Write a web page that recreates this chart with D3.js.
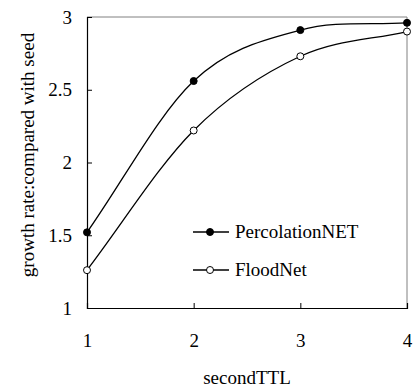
<!DOCTYPE html>
<html>
<head>
<meta charset="utf-8">
<script src="https://cdn.jsdelivr.net/npm/d3@7"></script>
<style>
  body { margin: 0; background: #fff; }
</style>
</head>
<body>
<div class="chart"></div>
<script>
// data
const ttl = [1, 2, 3, 4];
const percolationNET = [1.52, 2.56, 2.91, 2.96];
const floodNet = [1.26, 2.22, 2.73, 2.90];
const xTicks = [1, 2, 3, 4];
const yTicks = [1, 1.5, 2, 2.5, 3];

const serif = '"Liberation Serif", "Times New Roman", serif';
const fontSize = 19;
const width = 414, height = 387;
const margin = { top: 17, left: 87, bottom: 79, right: 7 };

// spreadsheet-style smoothing: catmull-rom inside, tangent = chord at the ends
function smoothCurve(context) {
    let pts;
    return {
        areaStart() {}, areaEnd() {},
        lineStart() { pts = []; },
        point(px, py) { pts.push([+px, +py]); },
        lineEnd() {
            context.moveTo(pts[0][0], pts[0][1]);
            for (let i = 0; i < pts.length - 1; i++) {
                const p0 = pts[i], p1 = pts[i + 1];
                const a = pts[i - 1] || p0, b = pts[i + 2] || p1;
                const k0 = pts[i - 1] ? 6 : 3, k1 = pts[i + 2] ? 6 : 3;
                context.bezierCurveTo(
                    p0[0] + (p1[0] - a[0]) / k0, p0[1] + (p1[1] - a[1]) / k0,
                    p1[0] - (b[0] - p0[0]) / k1, p1[1] - (b[1] - p0[1]) / k1,
                    p1[0], p1[1]);
            }
        }
    };
}

const svg = d3.select(".chart").append("svg")
    .attr("width", width)
    .attr("height", height);

//SCALES
const x = d3.scaleLinear()
    .domain([1, 4])
    .range([margin.left, width - margin.right]);

const y = d3.scaleLinear()
    .domain([1, 3])
    .range([height - margin.bottom, margin.top]);

//FRAME (top/right in grey)
svg.append("line")
    .attr("x1", x(1)).attr("x2", x(4))
    .attr("y1", y(3)).attr("y2", y(3))
    .attr("stroke", "#808080");
svg.append("line")
    .attr("x1", x(4)).attr("x2", x(4))
    .attr("y1", y(3)).attr("y2", y(1))
    .attr("stroke", "#808080");

//X AXIS, ticks inside
const xAxis = svg.append("g")
    .attr("transform", `translate(0, ${y(1)})`)
    .call(d3.axisBottom(x).tickValues(xTicks).tickSize(-5).tickPadding(26).tickFormat(d3.format("d")));

//Y AXIS, ticks inside
const yAxis = svg.append("g")
    .attr("transform", `translate(${x(1)}, 0)`)
    .call(d3.axisLeft(y).tickValues(yTicks).tickSize(-5).tickPadding(15).tickFormat(d => d));

[xAxis, yAxis].forEach(g => {
    g.select(".domain").attr("stroke", "#000").attr("stroke-width", 1.2);
    g.selectAll(".tick line").attr("stroke", "#000");
    g.selectAll(".tick text")
        .style("font-family", serif)
        .style("font-size", fontSize + "px")
        .attr("fill", "#000");
});

//AXIS TITLES
svg.append("text")
    .attr("x", (x(1) + x(4)) / 2)
    .attr("y", 384)
    .attr("text-anchor", "middle")
    .style("font-family", serif)
    .style("font-size", fontSize + "px")
    .text("secondTTL");

svg.append("text")
    .attr("transform", "translate(34, 155) rotate(-90)")
    .attr("text-anchor", "middle")
    .style("font-family", serif)
    .style("font-size", fontSize + "px")
    .text("growth rate:compared with seed");

//LINES
const line = d3.line()
    .x((d, i) => x(ttl[i]))
    .y(d => y(d))
    .curve(smoothCurve);

const series = [
    { name: "PercolationNET", values: percolationNET, fill: "#000" },
    { name: "FloodNet", values: floodNet, fill: "#fff" }
];

series.forEach(s => {
    svg.append("path")
        .datum(s.values)
        .attr("fill", "none")
        .attr("stroke", "#000")
        .attr("stroke-width", 1.3)
        .attr("d", line);

    svg.selectAll(null)
        .data(s.values)
        .enter().append("circle")
        .attr("cx", (d, i) => x(ttl[i]))
        .attr("cy", d => y(d))
        .attr("r", 3.5)
        .attr("fill", s.fill)
        .attr("stroke", "#000")
        .attr("stroke-width", 1);
});

//LEGEND
const legend = svg.append("g").attr("transform", "translate(193, 232)");
series.forEach((s, i) => {
    const g = legend.append("g").attr("transform", `translate(0, ${i * 38})`);
    g.append("line")
        .attr("x1", 0).attr("x2", 36)
        .attr("stroke", "#000")
        .attr("stroke-width", 1.3);
    g.append("circle")
        .attr("cx", 17).attr("r", 3.5)
        .attr("fill", s.fill)
        .attr("stroke", "#000");
    g.append("text")
        .attr("x", 42)
        .attr("y", 6)
        .style("font-family", serif)
        .style("font-size", fontSize + "px")
        .text(s.name);
});
</script>
</body>
</html>
